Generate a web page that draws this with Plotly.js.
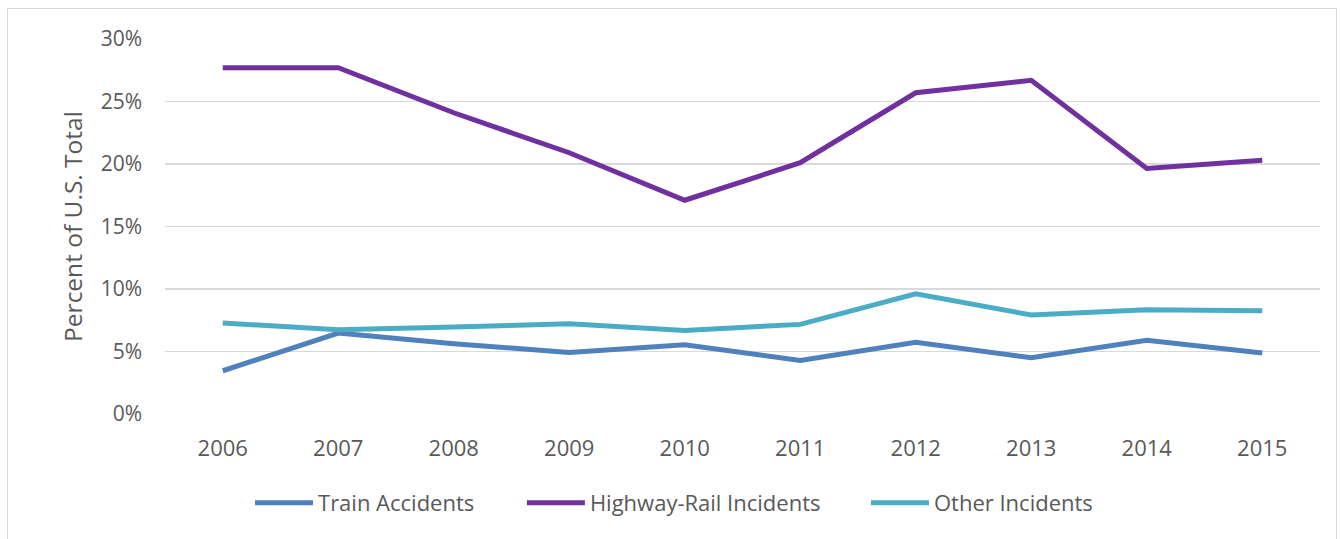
<!DOCTYPE html>
<html>
<head>
<meta charset="utf-8">
<script src="https://cdn.plot.ly/plotly-3.0.1.min.js"></script>
<style>
  html, body { margin:0; padding:0; background:#ffffff; }
  #frame { position:absolute; left:7px; top:8px; width:1330px; height:540px; border:1.5px solid #d9d9d9; box-sizing:border-box; }
  #chart { position:absolute; left:0; top:0; width:1341px; height:539px; }
</style>
</head>
<body>
<div id="frame"></div>
<div id="chart"></div>
<script>
const years = ['2006','2007','2008','2009','2010','2011','2012','2013','2014','2015'];
const trainAccidents = [3.46, 6.48, 5.62, 4.93, 5.54, 4.29, 5.73, 4.50, 5.89, 4.88];
const highwayRail = [27.7, 27.7, 24.1, 20.9, 17.1, 20.1, 25.7, 26.7, 19.65, 20.3];
const otherIncidents = [7.28, 6.74, 6.96, 7.22, 6.69, 7.17, 9.62, 7.92, 8.34, 8.26];
const yTicks = [0, 5, 10, 15, 20, 25, 30];
const yTickLabels = ['0%', '5%', '10%', '15%', '20%', '25%', '30%'];

const seriesNames = ['Train Accidents', 'Highway-Rail Incidents', 'Other Incidents'];
const seriesColors = ['#4f81bd', '#7030a0', '#4bacc6'];
const seriesValues = [trainAccidents, highwayRail, otherIncidents];
const legendIds = ['legend', 'legend2', 'legend3'];
const legendX = [0.0736, 0.309, 0.6069];

const traces = seriesValues.map((vals, i) => ({
  x: years,
  y: vals,
  type: 'scatter',
  mode: 'lines',
  name: seriesNames[i],
  legend: legendIds[i],
  line: { color: seriesColors[i], width: 5 },
  hoverinfo: 'x+y+name'
}));

function legendCfg(x) {
  return {
    orientation: 'h',
    x: x, xanchor: 'left',
    y: -0.237, yanchor: 'middle',
    font: { size: 22, color: '#595959' },
    itemwidth: 58,
    bgcolor: 'rgba(0,0,0,0)'
  };
}

const layout = {
  width: 1341,
  height: 539,
  paper_bgcolor: 'rgba(0,0,0,0)',
  plot_bgcolor: 'rgba(0,0,0,0)',
  margin: { l: 165, r: 21, t: 39, b: 125, pad: 0 },
  font: { family: 'Open Sans, sans-serif', color: '#595959', size: 20 },
  showlegend: true,
  legend: legendCfg(legendX[0]),
  legend2: legendCfg(legendX[1]),
  legend3: legendCfg(legendX[2]),
  xaxis: {
    type: 'category',
    range: [-0.5, 9.5],
    showgrid: false,
    zeroline: false,
    showline: false,
    ticks: '',
    tickfont: { size: 22, color: '#595959' },
    ticklabelstandoff: 19
  },
  yaxis: {
    range: [0, 30],
    tickvals: yTicks,
    ticktext: yTickLabels,
    showgrid: true,
    gridcolor: '#d9d9d9',
    gridwidth: 1.5,
    zeroline: false,
    showline: false,
    ticks: '',
    ticklabelstandoff: 22,
    tickfont: { size: 21, color: '#595959' },
    title: { text: 'Percent of U.S. Total', font: { size: 24.5, color: '#595959' }, standoff: 11 }
  }
};

Plotly.newPlot('chart', traces, layout, { displayModeBar: false, staticPlot: true });
</script>
</body>
</html>
